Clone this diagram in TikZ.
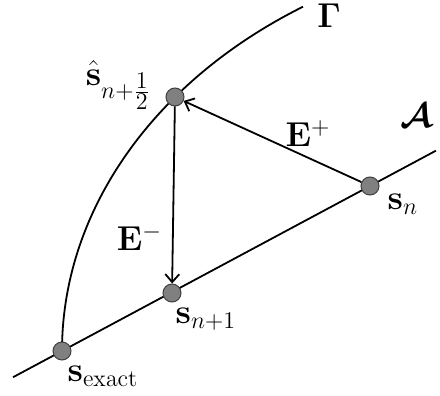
\documentclass[tikz,border=0pt]{standalone}
\usepackage{amsmath,amssymb,bm}
\usetikzlibrary{arrows.meta,positioning,calc}

\begin{document}
\begin{tikzpicture}[x=0.5pt,y=0.5pt,
  pt/.style={circle,draw=black!75,fill=black!50,line width=0.5pt,minimum size=9pt,inner sep=0pt},
  lbl/.style={font=\LARGE,inner sep=1pt},
  vec/.style={line width=0.9pt,-{Straight Barb[length=4pt,width=7pt]}}]
  \useasboundingbox (0,0) rectangle (440,396);
  \coordinate (sx) at (62,45);   % 厳密解
  \coordinate (s1) at (172,103); % 次のステップ
  \coordinate (sn) at (370,210); % 現在のステップ
  \coordinate (sh) at (175,299); % 中間点
  \draw[line width=0.9pt] ($(sx)!-0.159!(sn)$) -- ($(sx)!1.214!(sn)$); % 直線 A
  \draw[line width=0.9pt] (sx) arc[start angle=180,end angle=122.45,x radius=520,y radius=408]; % 曲線 Gamma
  \node[pt] (nx) at (sx) {};
  \node[pt] (n1) at (s1) {};
  \node[pt] (nn) at (sn) {};
  \node[pt] (nh) at (sh) {};
  \draw[vec] (nn) -- node[pos=0.3,above=4pt,lbl] (ep) {$\mathbf{E}^{+}$} (nh); % 前進
  \draw[vec] (nh) -- node[pos=0.74,left=4pt,lbl] (em) {$\mathbf{E}^{-}$} (n1); % 後退
  \node[lbl,left=6pt of nh,yshift=6pt] (lh) {$\hat{\mathbf{s}}_{n+\frac{\scriptstyle 1}{\scriptstyle 2}}$};
  \node[lbl,below right=-0.7pt and 4.3pt of nn] (ln) {$\mathbf{s}_{n}$};
  \node[lbl,below right=2.8pt and -2.7pt of n1] (l1) {$\mathbf{s}_{n+1}$};
  \node[lbl,below right=2.8pt and -1.7pt of nx] (lx) {$\mathbf{s}_{\mathrm{exact}}$};
  \node[lbl] (gam) at (329,380) {$\boldsymbol{\Gamma}$};
  \node[lbl] (cala) at (416,280) {$\boldsymbol{\mathcal{A}}$};
\end{tikzpicture}
\end{document}
